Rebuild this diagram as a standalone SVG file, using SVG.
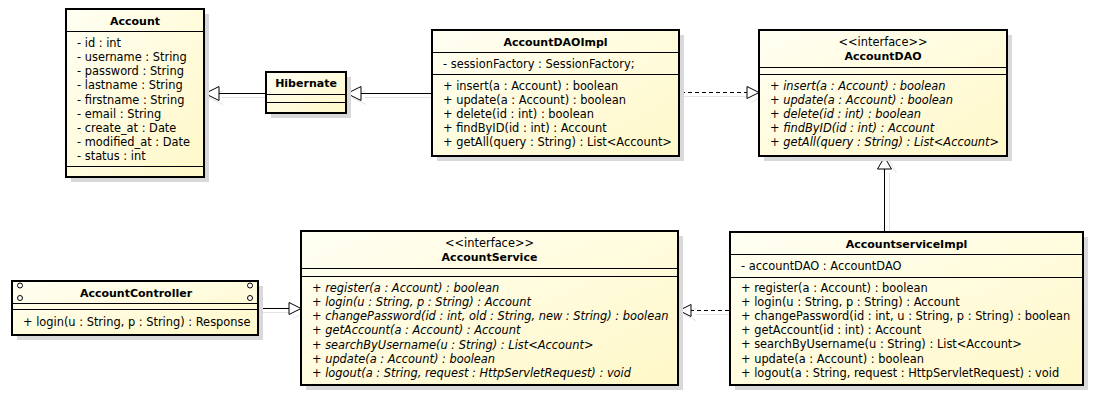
<svg xmlns="http://www.w3.org/2000/svg" width="1106" height="414" viewBox="0 0 1106 414">
<defs>
<linearGradient id="g" x1="0" y1="0" x2="1" y2="1">
<stop offset="0" stop-color="#FFFFF3"/>
<stop offset="1" stop-color="#FFF8C8"/>
</linearGradient>
<style>
.box{fill:url(#g);stroke:#000;stroke-width:2}
.sh{fill:#d9d9d9}
.sep{stroke:#000;stroke-width:1;fill:none}
text{font-family:"DejaVu Sans",Verdana,sans-serif;font-size:11.4px;fill:#000}
.t{font-weight:bold;text-anchor:middle;font-size:11px}
.c{text-anchor:middle}
.i{font-style:italic}
.ln{stroke:#000;stroke-width:1;fill:none}
.d{stroke-dasharray:4 3}
.tri{fill:#fff;stroke:#000;stroke-width:1}
.ls{stroke:#e4e4e4;stroke-width:1;fill:none}
.cir{fill:#fff;stroke:#000;stroke-width:1}
</style>
</defs>
<rect width="1106" height="414" fill="#fff"/>

<g id="connectors">
<!-- shadows -->
<path class="ls" d="M270 97.5H222M223 90.5L209 97.5L223 104.5"/>
<path class="ls" d="M436 97.5H365M366 90.5L352 97.5L366 104.5"/>
<path class="ls" d="M684 96.5H751M751 90.5L763 96.5L751 102.5"/>
<path class="ls" d="M889.5 235V173M882.5 173L889.5 161L896.5 173"/>
<path class="ls" d="M734 314.5H696M696 308.5L684 314.5L696 320.5"/>
<path class="ls" d="M263 312.5H293M293 306.5L305 312.5L293 318.5"/>
<!-- Hibernate -> Account -->
<path class="ln" d="M266 93.5H219"/>
<path class="tri" d="M219 86.5L205 93.5L219 100.5Z"/>
<!-- AccountDAOImpl -> Hibernate -->
<path class="ln" d="M432 93.5H361"/>
<path class="tri" d="M361 86.5L347 93.5L361 100.5Z"/>
<!-- AccountDAOImpl ..> AccountDAO -->
<path class="ln d" d="M681 92.5H747"/>
<path class="tri" d="M747 86.5L759 92.5L747 98.5Z"/>
<!-- AccountserviceImpl -> AccountDAO -->
<path class="ln" d="M884.5 231V169"/>
<path class="tri" d="M877.5 169L884.5 157L891.5 169Z"/>
<!-- AccountserviceImpl ..> AccountService -->
<path class="ln d" d="M729 310.5H691"/>
<path class="tri" d="M691 304.5L679 310.5L691 316.5Z"/>
<!-- AccountController -> AccountService -->
<path class="ln" d="M259 308.5H289"/>
<path class="tri" d="M289 302.5L301 308.5L289 314.5Z"/>
</g>

<g id="Account">
<rect class="sh" x="71" y="14" width="138" height="168"/>
<rect class="box" x="66" y="9" width="138" height="168"/>
<line class="sep" x1="66" y1="31.5" x2="204" y2="31.5"/>
<line class="sep" x1="66" y1="166.5" x2="204" y2="166.5"/>
<text class="t" x="135" y="25">Account</text>
<text x="77" y="47">- id : int</text>
<text x="77" y="61">- username : String</text>
<text x="77" y="75.3">- password : String</text>
<text x="77" y="89.4">- lastname : String</text>
<text x="77" y="103.6">- firstname : String</text>
<text x="77" y="117.7">- email : String</text>
<text x="77" y="131.9">- create_at : Date</text>
<text x="77" y="146">- modified_at : Date</text>
<text x="77" y="160.2">- status : int</text>
</g>

<g id="Hibernate">
<rect class="sh" x="271" y="77" width="80" height="41"/>
<rect class="box" x="266" y="72" width="80" height="41"/>
<line class="sep" x1="266" y1="94.5" x2="346" y2="94.5"/>
<line class="sep" x1="266" y1="102.5" x2="346" y2="102.5"/>
<text class="t" x="306" y="87">Hibernate</text>
</g>

<g id="AccountDAOImpl">
<rect class="sh" x="437" y="35" width="247" height="126"/>
<rect class="box" x="432" y="30" width="247" height="126"/>
<line class="sep" x1="432" y1="52.5" x2="679" y2="52.5"/>
<line class="sep" x1="432" y1="74.5" x2="679" y2="74.5"/>
<text class="t" x="555.5" y="46">AccountDAOImpl</text>
<text x="443" y="67.5">- sessionFactory : SessionFactory;</text>
<text x="443" y="89.7">+ insert(a : Account) : boolean</text>
<text x="443" y="103.9">+ update(a : Account) : boolean</text>
<text x="443" y="118">+ delete(id : int) : boolean</text>
<text x="443" y="132.2">+ findByID(id : int) : Account</text>
<text x="443" y="146.3">+ getAll(query : String) : List&lt;Account&gt;</text>
</g>

<g id="AccountDAO">
<rect class="sh" x="764" y="35" width="248" height="126"/>
<rect class="box" x="759" y="30" width="248" height="126"/>
<line class="sep" x1="759" y1="67.5" x2="1007" y2="67.5"/>
<line class="sep" x1="759" y1="74.5" x2="1007" y2="74.5"/>
<text class="c" x="883" y="46">&lt;&lt;interface&gt;&gt;</text>
<text class="t" x="883" y="60">AccountDAO</text>
<text class="i" x="770" y="89.7">+ insert(a : Account) : boolean</text>
<text class="i" x="770" y="103.9">+ update(a : Account) : boolean</text>
<text class="i" x="770" y="118">+ delete(id : int) : boolean</text>
<text class="i" x="770" y="132.2">+ findByID(id : int) : Account</text>
<text class="i" x="770" y="146.3">+ getAll(query : String) : List&lt;Account&gt;</text>
</g>

<g id="AccountController">
<rect class="sh" x="17" y="286" width="246" height="54"/>
<rect class="box" x="12" y="281" width="246" height="54"/>
<line class="sep" x1="12" y1="303.5" x2="258" y2="303.5"/>
<line class="sep" x1="12" y1="309.5" x2="258" y2="309.5"/>
<circle class="cir" cx="20" cy="285.5" r="2.5"/>
<circle class="cir" cx="20" cy="298" r="2.5"/>
<circle class="cir" cx="250" cy="285.5" r="2.5"/>
<circle class="cir" cx="250" cy="298" r="2.5"/>
<text class="t" x="136" y="297">AccountController</text>
<text x="23" y="326">+ login(u : String, p : String) : Response</text>
</g>

<g id="AccountService">
<rect class="sh" x="306" y="236" width="377" height="154"/>
<rect class="box" x="301" y="231" width="377" height="154"/>
<line class="sep" x1="301" y1="268.5" x2="678" y2="268.5"/>
<line class="sep" x1="301" y1="276.5" x2="678" y2="276.5"/>
<text class="c" x="489.5" y="247">&lt;&lt;interface&gt;&gt;</text>
<text class="t" x="489.5" y="261">AccountService</text>
<text class="i" x="312" y="291.7">+ register(a : Account) : boolean</text>
<text class="i" x="312" y="305.9">+ login(u : String, p : String) : Account</text>
<text class="i" x="312" y="320.1">+ changePassword(id : int, old : String, new : String) : boolean</text>
<text class="i" x="312" y="334.3">+ getAccount(a : Account) : Account</text>
<text class="i" x="312" y="348.5">+ searchByUsername(u : String) : List&lt;Account&gt;</text>
<text class="i" x="312" y="362.7">+ update(a : Account) : boolean</text>
<text class="i" x="312" y="376.9">+ logout(a : String, request : HttpServletRequest) : void</text>
</g>

<g id="AccountserviceImpl">
<rect class="sh" x="735" y="237" width="353" height="153"/>
<rect class="box" x="730" y="232" width="353" height="153"/>
<line class="sep" x1="730" y1="254.5" x2="1083" y2="254.5"/>
<line class="sep" x1="730" y1="277.5" x2="1083" y2="277.5"/>
<text class="t" x="906.5" y="248">AccountserviceImpl</text>
<text x="741" y="270">- accountDAO : AccountDAO</text>
<text x="741" y="291.5">+ register(a : Account) : boolean</text>
<text x="741" y="305.7">+ login(u : String, p : String) : Account</text>
<text x="741" y="319.9">+ changePassword(id : int, u : String, p : String) : boolean</text>
<text x="741" y="334.1">+ getAccount(id : int) : Account</text>
<text x="741" y="348.3">+ searchByUsername(u : String) : List&lt;Account&gt;</text>
<text x="741" y="362.5">+ update(a : Account) : boolean</text>
<text x="741" y="376.7">+ logout(a : String, request : HttpServletRequest) : void</text>
</g>
</svg>
